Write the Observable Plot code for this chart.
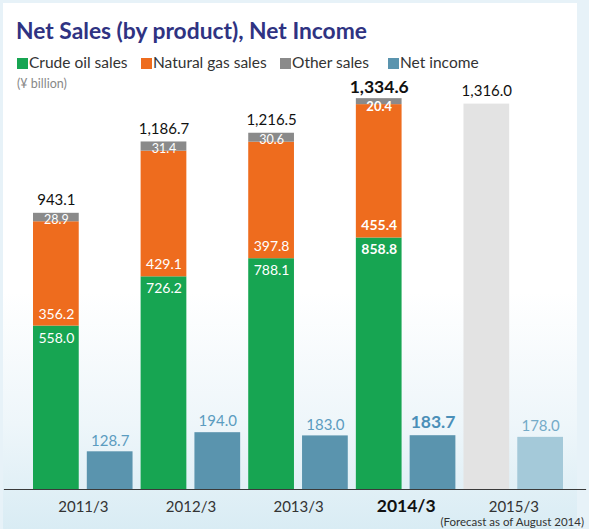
<!DOCTYPE html>
<html>
<head>
<meta charset="utf-8">
<script src="https://cdn.jsdelivr.net/npm/d3@7"></script>
<script src="https://cdn.jsdelivr.net/npm/@observablehq/plot@0.6"></script>
<style>
  html, body { margin: 0; padding: 0; background: #e7f2f8; }
  #wrap { position: relative; width: 589px; height: 529px; overflow: hidden; font-family: Lato, "Open Sans", sans-serif; }
  #panel { position: absolute; left: 3px; top: 3px; width: 574px; height: 526px;
    background: linear-gradient(to bottom, #ffffff 0%, #ffffff 55%, #eef6fa 80%, #d9ecf4 100%); }
  #title { position: absolute; left: 16px; top: 16px; font-size: 22.8px; font-weight: 700; color: #2f3382; line-height: 28px; white-space: nowrap; }
  #legend { position: absolute; left: 17px; top: 53px; font-size: 15.5px; color: #333; line-height: 18px; white-space: nowrap; }
  #legend span.item { position: absolute; top: 0; }
  #legend span.sw { display: inline-block; width: 11px; height: 11px; margin-right: 1px; vertical-align: -1px; }
  #unit { position: absolute; left: 17px; top: 76px; font-size: 12.5px; color: #888; }
  #note { position: absolute; right: 5px; top: 516px; font-size: 11.5px; line-height: 12px; color: #333; white-space: nowrap; }
  #chart { position: absolute; left: 0; top: 70px; }
</style>
</head>
<body>
<div id="wrap">
  <div id="panel"></div>
  <div id="title">Net Sales (by product), Net Income</div>
  <div id="legend"></div>
  <div id="unit">(¥ billion)</div>
  <div id="chart"></div>
  <div id="note">(Forecast as of August 2014)</div>
</div>
<script>
const years = ["2011/3", "2012/3", "2013/3", "2014/3", "2015/3"];
const crudeOil = [558.0, 726.2, 788.1, 858.8, null];
const naturalGas = [356.2, 429.1, 397.8, 455.4, null];
const otherSales = [28.9, 31.4, 30.6, 20.4, null];
const totalSales = [943.1, 1186.7, 1216.5, 1334.6, 1316.0];
const netIncome = [128.7, 194.0, 183.0, 183.7, 178.0];
const highlightYear = "2014/3";
const forecastYear = "2015/3";

const seriesNames = ["Crude oil sales", "Natural gas sales", "Other sales", "Net income", "Net sales forecast", "Net income forecast"];
const seriesColors = ["#17a552", "#ee6c1e", "#8a8a8a", "#5a94ae", "#e3e3e3", "#a4c9d9"];
const legendNames = seriesNames.slice(0, 4);
const legendOffsets = [0, 124, 263, 371];

// legend (HTML)
const legend = document.getElementById("legend");
legendNames.forEach((name, i) => {
  const s = document.createElement("span");
  s.className = "item";
  s.style.left = legendOffsets[i] + "px";
  s.innerHTML = `<span class="sw" style="background:${seriesColors[i]}"></span>${name}`;
  legend.appendChild(s);
});

const sKey = y => y + "|sales";
const nKey = y => y + "|ni";
const xDomain = years.flatMap(y => [sKey(y), nKey(y)]);

// long-format table for bars
const bars = [];
years.forEach((y, i) => {
  if (y === forecastYear) {
    bars.push({key: sKey(y), year: y, series: "Net sales forecast", value: totalSales[i]});
  } else {
    bars.push({key: sKey(y), year: y, series: "Crude oil sales", value: crudeOil[i]});
    bars.push({key: sKey(y), year: y, series: "Natural gas sales", value: naturalGas[i]});
    bars.push({key: sKey(y), year: y, series: "Other sales", value: otherSales[i]});
  }
  bars.push({key: nKey(y), year: y, series: y === forecastYear ? "Net income forecast" : "Net income", value: netIncome[i]});
});

const fmt = d3.format(",.1f");
const segRows = years.map((y, i) => ({key: sKey(y), year: y, crude: crudeOil[i], gas: naturalGas[i], other: otherSales[i], total: totalSales[i], ni: netIncome[i]}));
const actual = segRows.filter(d => d.year !== forecastYear);
const isHi = d => d.year === highlightYear;

const whiteText = {fill: "white", fontSize: 14, fontFamily: "Lato, sans-serif"};

const chart = Plot.plot({
  width: 589,
  height: 459,
  marginLeft: 33,
  marginRight: 26,
  marginTop: 9,
  marginBottom: 40,
  style: {background: "transparent", fontFamily: "Lato, sans-serif", overflow: "visible"},
  x: {domain: xDomain, paddingInner: 0.15, paddingOuter: 0, round: false, axis: null},
  y: {domain: [0, 1400], axis: null},
  color: {domain: seriesNames, range: seriesColors},
  marks: [
    Plot.barY(bars, {x: "key", y: "value", fill: "series"}),
    Plot.frame({anchor: "bottom", stroke: "#3a3a3a", strokeWidth: 1.2, insetLeft: -29, insetRight: -22}),
    // crude labels (top of green)
    Plot.text(actual.filter(d => !isHi(d)), {x: "key", y: "crude", text: d => fmt(d.crude), dy: 12, ...whiteText}),
    Plot.text(actual.filter(isHi), {x: "key", y: "crude", text: d => fmt(d.crude), dy: 12, ...whiteText, fontWeight: 700}),
    // gas labels (bottom of orange)
    Plot.text(actual.filter(d => !isHi(d)), {x: "key", y: "crude", text: d => fmt(d.gas), dy: -12, ...whiteText}),
    Plot.text(actual.filter(isHi), {x: "key", y: "crude", text: d => fmt(d.gas), dy: -12, ...whiteText, fontWeight: 700}),
    // other labels
    Plot.text(actual.filter(d => !isHi(d)), {x: "key", y: "total", text: d => fmt(d.other), dy: 7, ...whiteText, fontSize: 12.5}),
    Plot.text(actual.filter(isHi), {x: "key", y: "total", text: d => fmt(d.other), dy: 8, ...whiteText, fontSize: 13, fontWeight: 700}),
    // totals
    Plot.text(segRows.filter(d => !isHi(d)), {x: "key", y: "total", text: d => fmt(d.total), dy: -13, fill: "#111", fontSize: 15}),
    Plot.text(segRows.filter(isHi), {x: "key", y: "total", text: d => fmt(d.total), dy: -11, fill: "#111", fontSize: 17.5, fontWeight: 700}),
    // net income labels
    Plot.text(segRows.filter(d => !isHi(d) && d.year !== forecastYear), {x: d => nKey(d.year), y: "ni", text: d => fmt(d.ni), dy: -11, fill: "#5b9cc0", fontSize: 15}),
    Plot.text(segRows.filter(d => d.year === forecastYear), {x: d => nKey(d.year), y: "ni", text: d => fmt(d.ni), dy: -11, fill: "#74abc8", fontSize: 15}),
    Plot.text(segRows.filter(isHi), {x: d => nKey(d.year), y: "ni", text: d => fmt(d.ni), dy: -13, fill: "#4a8fb8", fontSize: 17.5, fontWeight: 700}),
    // category labels (centred under each pair of bars)
    Plot.text(segRows.filter(d => !isHi(d)), {x: "key", text: "year", frameAnchor: "bottom", dy: 22, dx: 27, fill: "#333", fontSize: 15}),
    Plot.text(segRows.filter(isHi), {x: "key", text: "year", frameAnchor: "bottom", dy: 22, dx: 27, fill: "#111", fontSize: 17.5, fontWeight: 700})
  ]
});
document.getElementById("chart").appendChild(chart);
</script>
</body>
</html>
